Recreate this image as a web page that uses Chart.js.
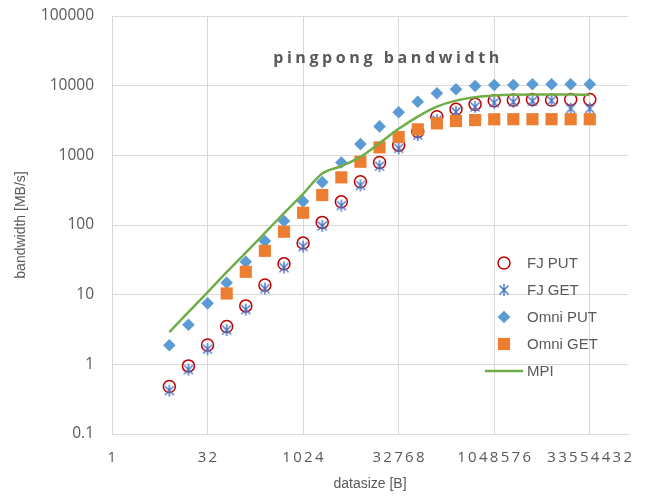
<!DOCTYPE html>
<html>
<head>
<meta charset="utf-8">
<script src="https://cdn.jsdelivr.net/npm/chart.js@4.4.1/dist/chart.umd.min.js"></script>
<style>
  body { margin: 0; background: #ffffff; }
  #wrap { width: 648px; height: 498px; }
</style>
</head>
<body>
<div id="wrap"><canvas id="grafico" width="648" height="498"></canvas></div>
<script>
// datos (datasize en bytes, bandwidth en MB/s)
const sizes = [8, 16, 32, 64, 128, 256, 512, 1024, 2048, 4096, 8192, 16384, 32768,
  65536, 131072, 262144, 524288, 1048576, 2097152, 4194304, 8388608, 16777216, 33554432];
const fjPut = [0.48, 0.95, 1.9, 3.5, 6.9, 13.8, 27.7, 55, 109, 215, 418, 790, 1400,
  2200, 3590, 4580, 5400, 6090, 6240, 6350, 6240, 6350, 6350];
const fjGet = [0.42, 0.84, 1.65, 3.1, 6.1, 12.2, 24.5, 49, 97, 190, 370, 700, 1260,
  1950, 3200, 4200, 4970, 5700, 5850, 6000, 6100, 4700, 4700];
const omniPut = [1.88, 3.7, 7.5, 14.8, 29.6, 58.7, 114, 218, 412, 790, 1450, 2600, 4150,
  5890, 7770, 8870, 9900, 10200, 10200, 10500, 10500, 10500, 10500];
const omniGet = [null, null, null, 10.4, 21.3, 42.6, 80, 150, 269, 483, 809, 1300, 1830,
  2360, 2880, 3110, 3210, 3290, 3300, 3300, 3300, 3300, 3300];
const mpi = [2.9, 5.6, 10.8, 21, 40, 77, 148, 280, 550, 700, 950, 1500, 2400,
  3600, 5000, 6100, 6800, 7200, 7400, 7450, 7450, 7450, 7400];

const xTicks = [1, 32, 1024, 32768, 1048576, 33554432];
const yTicks = [0.1, 1, 10, 100, 1000, 10000, 100000];
const xMax = 134217728;

const textColor = "#595959";
const gridColor = "#D9D9D9";

// marcador asterisco (X con linea vertical) para FJ GET
function asterisco(color) {
  const c = document.createElement("canvas");
  c.width = 14;
  c.height = 14;
  const g = c.getContext("2d");
  g.strokeStyle = color;
  g.lineWidth = 1.4;
  g.beginPath();
  g.moveTo(2.5, 2.5); g.lineTo(11.5, 11.5);
  g.moveTo(11.5, 2.5); g.lineTo(2.5, 11.5);
  g.moveTo(7, 1); g.lineTo(7, 13);
  g.stroke();
  return c;
}
const starImg = asterisco("#4472C4");

function puntos(vals) {
  return sizes.map((s, i) => ({ x: s, y: vals[i] })).filter((p) => p.y !== null);
}

const series = [
  { label: "FJ PUT", data: puntos(fjPut), pointStyle: "circle", pointRadius: 6,
    pointBorderWidth: 1.5, pointBorderColor: "#C00000", pointBackgroundColor: "rgba(0,0,0,0)", order: 5 },
  { label: "FJ GET", data: puntos(fjGet), pointStyle: starImg, pointRadius: 7, order: 4 },
  { label: "Omni PUT", data: puntos(omniPut), pointStyle: "rectRot", pointRadius: 6.3,
    pointBorderWidth: 0, pointBackgroundColor: "#5B9BD5", order: 3 },
  { label: "Omni GET", data: puntos(omniGet), pointStyle: "rect", pointRadius: 8.6,
    pointBorderWidth: 0, pointBackgroundColor: "#ED7D31", order: 2 },
  { label: "MPI", data: puntos(mpi), showLine: true, pointRadius: 0, borderColor: "#70AD47",
    borderWidth: 2.5, cubicInterpolationMode: "monotone", order: 1 },
];

// titulo, etiquetas del eje x y leyenda dibujados con espaciado de letras
const extras = {
  id: "extras",
  afterDraw(chart) {
    const ctx = chart.ctx;
    const xs = chart.scales.x;
    const area = chart.chartArea;
    ctx.save();
    ctx.fillStyle = textColor;
    ctx.textBaseline = "middle";

    ctx.font = '15px "Open Sans"';
    ctx.letterSpacing = "2.3px";
    ctx.textAlign = "center";
    xTicks.forEach((v) => {
      ctx.fillText(String(v), xs.getPixelForValue(v) + 1, area.bottom + 24);
    });

    ctx.font = 'bold 16px "Open Sans"';
    ctx.letterSpacing = "3.6px";
    ctx.fillText("pingpong bandwidth", 388, 58);

    // leyenda
    ctx.letterSpacing = "0px";
    ctx.font = '15px "Liberation Sans"';
    ctx.textAlign = "left";
    const mx = 504, tx = 527;
    const rows = [263, 290, 317, 344, 371];
    chart.data.datasets.forEach((ds, i) => {
      const y = rows[i];
      ctx.save();
      if (ds.pointStyle === "circle") {
        ctx.strokeStyle = ds.pointBorderColor;
        ctx.lineWidth = ds.pointBorderWidth;
        ctx.beginPath();
        ctx.arc(mx, y, ds.pointRadius, 0, Math.PI * 2);
        ctx.stroke();
      } else if (ds.pointStyle === "rectRot") {
        const r = ds.pointRadius;
        ctx.fillStyle = ds.pointBackgroundColor;
        ctx.beginPath();
        ctx.moveTo(mx, y - r); ctx.lineTo(mx + r, y);
        ctx.lineTo(mx, y + r); ctx.lineTo(mx - r, y);
        ctx.closePath();
        ctx.fill();
      } else if (ds.pointStyle === "rect") {
        const h = ds.pointRadius / Math.SQRT2;
        ctx.fillStyle = ds.pointBackgroundColor;
        ctx.fillRect(mx - h, y - h, 2 * h, 2 * h);
      } else if (ds.showLine) {
        ctx.strokeStyle = ds.borderColor;
        ctx.lineWidth = ds.borderWidth;
        ctx.beginPath();
        ctx.moveTo(485, y); ctx.lineTo(523, y);
        ctx.stroke();
      } else {
        ctx.drawImage(ds.pointStyle, mx - 7, y - 7);
      }
      ctx.restore();
      ctx.fillText(ds.label, tx, y + 1);
    });
    ctx.restore();
  },
};

const ctx = document.getElementById("grafico").getContext("2d");
new Chart(ctx, {
  type: "scatter",
  data: { datasets: series },
  options: {
    responsive: false,
    animation: false,
    layout: { padding: { left: 0, right: 20, top: 16, bottom: 0 } },
    plugins: {
      legend: { display: false },
      title: { display: false },
      tooltip: { enabled: false },
    },
    scales: {
      x: {
        type: "logarithmic",
        min: 1,
        max: xMax,
        afterBuildTicks: (scale) => {
          scale.ticks = xTicks.map((v) => ({ value: v }));
        },
        afterFit: (scale) => {
          scale.height = 64;
        },
        ticks: { display: false },
        grid: { color: gridColor, lineWidth: 1, drawTicks: false },
        border: { color: gridColor, width: 1 },
        title: {
          display: true,
          text: "datasize [B]",
          color: textColor,
          font: { family: "Liberation Sans", size: 14 },
          padding: { top: 0, bottom: 5 },
        },
      },
      y: {
        type: "logarithmic",
        min: 0.1,
        max: 100000,
        afterBuildTicks: (scale) => {
          scale.ticks = yTicks.map((v) => ({ value: v }));
        },
        afterFit: (scale) => {
          scale.width = 112;
          scale.paddingTop = 0;
          scale.paddingBottom = 0;
        },
        ticks: {
          color: textColor,
          font: { family: "Open Sans", size: 15.5 },
          padding: 18,
          callback: (v) => String(v),
        },
        grid: { color: gridColor, lineWidth: 1, drawTicks: false },
        border: { color: gridColor, width: 1 },
        title: {
          display: true,
          text: "bandwidth [MB/s]",
          color: textColor,
          font: { family: "Liberation Sans", size: 14 },
          padding: { top: 13, bottom: 0 },
        },
      },
    },
  },
  plugins: [extras],
});
</script>
</body>
</html>
